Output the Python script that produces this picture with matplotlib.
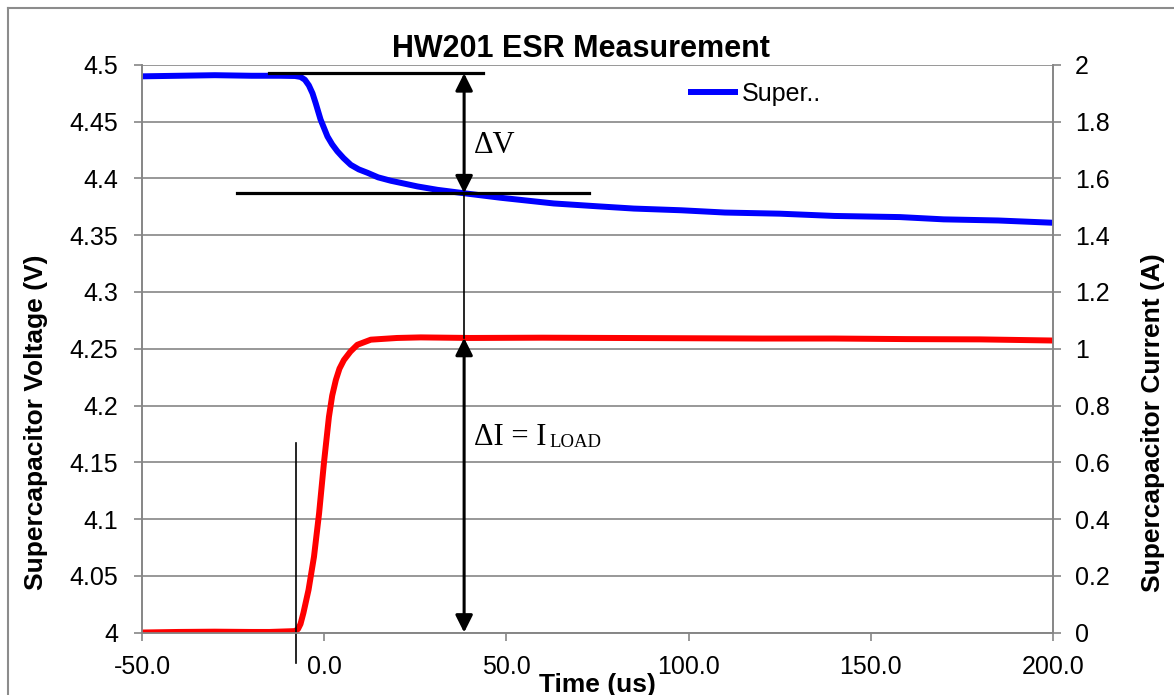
import numpy as np
import matplotlib.pyplot as plt
from matplotlib.lines import Line2D

time_v = [-50, -40, -30, -20, -12, -8, -6.5, -5.3, -4.2, -3.2, -2.3, -1.0, 0.9, 2.2, 3.6,
          5.3, 7.3, 9.5, 11.9, 14.8, 18.3, 25.6, 31.1, 38.4, 48.5, 63, 75, 85, 98, 110,
          125, 140, 158, 170, 185, 200]
voltage = [4.490, 4.4905, 4.491, 4.4905, 4.4905, 4.4903, 4.4895, 4.487, 4.482, 4.475,
           4.466, 4.452, 4.437, 4.430, 4.424, 4.418, 4.412, 4.408, 4.405, 4.401,
           4.398, 4.393, 4.390, 4.387, 4.383, 4.378, 4.3755, 4.3735, 4.372, 4.370,
           4.369, 4.367, 4.366, 4.364, 4.363, 4.361]

time_i = [-50, -40, -30, -20, -15, -8.0, -7.2, -6.5, -5.7, -4.3, -2.8, -1.4, -0.05, 1.3,
          2.2, 3.2, 4.2, 5.4, 7.2, 9.1, 12.8, 20, 26.5, 40, 60, 80, 100, 120, 140, 160,
          180, 200]
current = [0.0, 0.002, 0.003, 0.002, 0.002, 0.005, 0.012, 0.03, 0.069, 0.15, 0.267,
           0.42, 0.60, 0.76, 0.835, 0.89, 0.93, 0.96, 0.99, 1.014, 1.032, 1.038, 1.040,
           1.038, 1.039, 1.038, 1.037, 1.036, 1.036, 1.034, 1.033, 1.029]

x_ticks = [-50, 0, 50, 100, 150, 200]
v_ticks = [4, 4.05, 4.1, 4.15, 4.2, 4.25, 4.3, 4.35, 4.4, 4.45, 4.5]
v_labels = ['4', '4.05', '4.1', '4.15', '4.2', '4.25', '4.3', '4.35', '4.4', '4.45', '4.5']
i_ticks = [0, 0.2, 0.4, 0.6, 0.8, 1, 1.2, 1.4, 1.6, 1.8, 2]
i_labels = ['0', '0.2', '0.4', '0.6', '0.8', '1', '1.2', '1.4', '1.6', '1.8', '2']

# where the measurement is taken
t_meas = 38.4
t_trigger = -7.8

grid_col = '#868686'
plt.rcParams['font.family'] = ['Liberation Sans', 'DejaVu Sans']

fig = plt.figure(figsize=(11.74, 6.95), dpi=100)
ax = fig.add_axes([0.12095, 0.0899, 0.77595, 0.8166])
ax2 = ax.twinx()

ax.plot(time_v, voltage, color='#0000FF', lw=4.3, solid_capstyle='butt', label='Super..')
ax2.plot(time_i, current, color='#FF0000', lw=4.3, solid_capstyle='butt')

ax.set_xlim(-50, 200)
ax.set_ylim(4, 4.5)
ax2.set_ylim(0, 2)
ax.set_xticks(x_ticks)
ax.set_xticklabels([f'{v:.1f}' for v in x_ticks])
ax.set_yticks(v_ticks)
ax.set_yticklabels(v_labels)
ax2.set_yticks(i_ticks)
ax2.set_yticklabels(i_labels)

ax.grid(axis='y', color=grid_col, lw=1.2)
ax.set_axisbelow(True)
for a in (ax, ax2):
    a.spines['top'].set_visible(False)
    for s in ('left', 'right', 'bottom'):
        a.spines[s].set_color(grid_col)
        a.spines[s].set_linewidth(1.2)
ax.tick_params(axis='both', length=6, width=1.2, color=grid_col, labelsize=18)
ax.tick_params(axis='y', pad=11)
ax.tick_params(axis='x', pad=10)
ax2.tick_params(axis='y', length=6, width=1.2, color=grid_col, labelsize=18, pad=10)

ax.set_xlabel('Time (us)', fontsize=19, fontweight='bold', labelpad=-4)
ax.set_ylabel('Supercapacitor Voltage (V)', fontsize=19, fontweight='bold')
ax2.set_ylabel('Supercapacitor Current (A)', fontsize=19, fontweight='bold')
ax.yaxis.set_label_coords(-0.103, 0.37)
ax2.yaxis.set_label_coords(1.097, 0.37)

fig.text(581 / 1174, 1 - 57 / 695, 'HW201 ESR Measurement', fontsize=22,
         fontweight='bold', ha='center', va='baseline')

ax.legend(loc='center left', bbox_to_anchor=(0.599, 0.949), frameon=False,
          fontsize=18, handlelength=2.0, handletextpad=0.15, borderpad=0,
          borderaxespad=0)

# annotation: delta V and delta I
v_before = voltage[0] + 0.0027
v_after = np.interp(t_meas, time_v, voltage)
i_load = np.interp(t_meas, time_i, current)
to_i = lambda v: (v - 4) * 4

ax2.plot([-15.2, 43.5], [to_i(v_before)] * 2, color='black', lw=2.3)
ax2.plot([-23.8, 72.8], [to_i(v_after)] * 2, color='black', lw=2.3)
arrow_kw = dict(arrowstyle='<|-|>', color='black', lw=2.2, mutation_scale=26,
                shrinkA=0, shrinkB=0)
ax2.annotate('', xy=(t_meas, to_i(v_before)), xytext=(t_meas, to_i(v_after)),
             arrowprops=arrow_kw)
ax2.plot([t_meas, t_meas], [to_i(v_after), i_load], color='black', lw=1.2)
ax2.annotate('', xy=(t_meas, i_load), xytext=(t_meas, 0), arrowprops=arrow_kw)
ax2.plot([t_trigger, t_trigger], [0.668, -0.108], color='black', lw=1.2, clip_on=False)

ax2.text(41.1, to_i(4.4295), '\u0394V', fontsize=22, family='Liberation Serif',
         va='center', ha='left')
ax2.text(41.1, 0.661, '\u0394I = I', fontsize=22, family='Liberation Serif',
         va='baseline', ha='left')
ax2.text(61.7, 0.655, 'LOAD', fontsize=13.5, family='Liberation Serif',
         va='baseline', ha='left')

# outer chart frame
fig.add_artist(Line2D([8 / 1174, 8 / 1174], [0, 1 - 8 / 695], color='#8c8c8c', lw=1.5))
fig.add_artist(Line2D([8 / 1174, 1], [1 - 8 / 695, 1 - 8 / 695], color='#8c8c8c', lw=1.5))

fig.savefig('out.png', dpi=100)
